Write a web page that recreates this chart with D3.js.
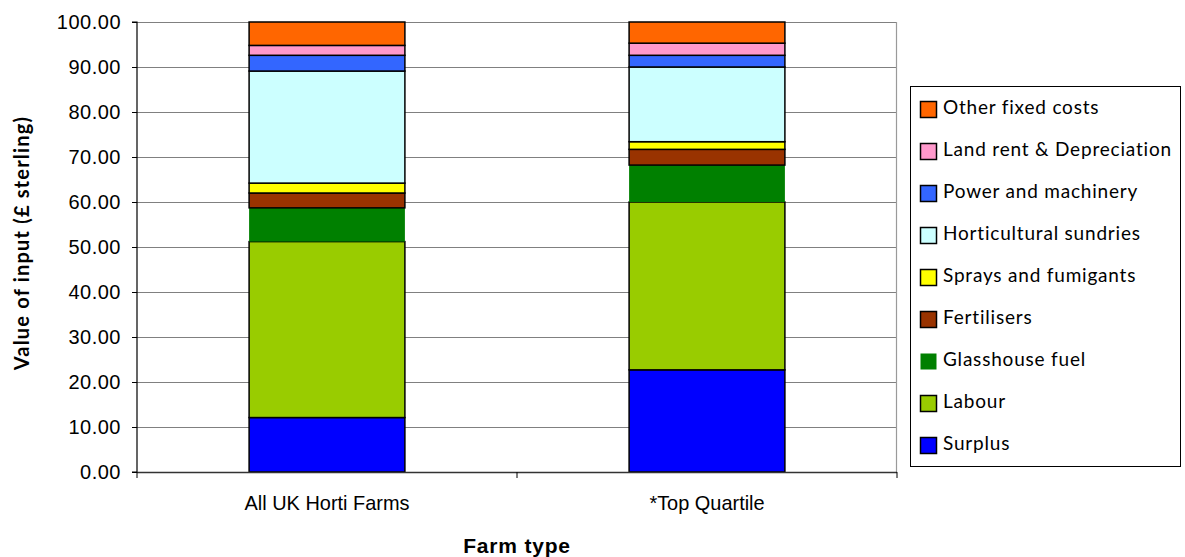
<!DOCTYPE html>
<html>
<head>
<meta charset="utf-8">
<script src="https://cdn.jsdelivr.net/npm/d3@7/dist/d3.min.js"></script>
<style>
  html, body { margin: 0; padding: 0; background: #fff; }
  svg { display: block; }
</style>
</head>
<body>
<svg id="chart" width="1185" height="557"></svg>
<script>
// Farm types along the x axis
const categories = ["All UK Horti Farms", "*Top Quartile"];

// Cost components, bottom of stack first
const seriesNames = [
  "Surplus", "Labour", "Glasshouse fuel", "Fertilisers", "Sprays and fumigants",
  "Horticultural sundries", "Power and machinery", "Land rent & Depreciation", "Other fixed costs"
];
const seriesColors = [
  "#0000FF", "#99CC00", "#008000", "#993300", "#FFFF00",
  "#CCFFFF", "#3366FF", "#FF99CC", "#FF6600"
];

// Value of input (£ sterling) per component, one entry per farm type
const surplus      = [12.1, 22.7];
const labour       = [39.1, 37.3];
const fuel         = [7.5, 8.2];
const fertilisers  = [3.3, 3.5];
const sprays       = [2.2, 1.7];
const sundries     = [24.9, 16.6];
const power        = [3.5, 2.6];
const landRent     = [2.2, 2.7];
const otherFixed   = [5.2, 4.7];

const yTicks = [0, 10, 20, 30, 40, 50, 60, 70, 80, 90, 100];

const seriesValues = [surplus, labour, fuel, fertilisers, sprays, sundries, power, landRent, otherFixed];

const rows = categories.map((c, i) => {
  const r = { category: c };
  seriesNames.forEach((s, k) => { r[s] = seriesValues[k][i]; });
  return r;
});

const stack = d3.stack().keys(seriesNames);
const layers = stack(rows);

const svg = d3.select("#chart");
const plot = { left: 137, top: 22, right: 897, bottom: 472 };

const x = d3.scaleBand().domain(categories).range([plot.left, plot.right]).paddingInner(0.59).paddingOuter(0.295);
const y = d3.scaleLinear().domain([0, 100]).range([plot.bottom, plot.top]);

// Gridlines
svg.append("g")
  .selectAll("line")
  .data(yTicks.filter(t => t > 0))
  .join("line")
  .attr("x1", plot.left).attr("x2", plot.right)
  .attr("y1", d => y(d) + 0.5).attr("y2", d => y(d) + 0.5)
  .attr("stroke", "#808080").attr("stroke-width", 1);

// Plot frame on right side
svg.append("line")
  .attr("x1", plot.right - 0.5).attr("x2", plot.right - 0.5)
  .attr("y1", plot.top).attr("y2", plot.bottom)
  .attr("stroke", "#9a9a9a").attr("stroke-width", 1.2);

// Stacked bars
const layerG = svg.append("g")
  .selectAll("g")
  .data(layers)
  .join("g")
  .attr("fill", (d, i) => seriesColors[i]);

layerG.selectAll("rect")
  .data(d => d.map(p => ({ p, key: d.key })))
  .join("rect")
  .attr("x", d => x(d.p.data.category))
  .attr("width", x.bandwidth())
  .attr("y", d => y(d.p[1]))
  .attr("height", d => y(d.p[0]) - y(d.p[1]))
  .attr("stroke", d => d.key === "Glasshouse fuel" ? "none" : "#000")
  .attr("stroke-width", 1.5);

// Y axis
const yAxis = d3.axisLeft(y).tickValues(yTicks).tickFormat(d3.format(".2f")).tickSize(5).tickPadding(11);
const yG = svg.append("g").attr("transform", `translate(${plot.left},0)`).call(yAxis);
yG.select(".domain").attr("stroke", "#000").attr("stroke-width", 1.2).attr("d", `M-5,${plot.top}H0V${plot.bottom}H-5`);
yG.selectAll(".tick line").attr("stroke", "#000");
yG.selectAll("text")
  .attr("font-family", "'Liberation Sans', Arial, sans-serif")
  .attr("font-size", 20)
  .attr("letter-spacing", 0.5)
  .attr("fill", "#000");

// X axis
const xAxis = svg.append("g").attr("transform", `translate(0,${plot.bottom})`);
xAxis.append("line")
  .attr("x1", plot.left).attr("x2", plot.right)
  .attr("y1", 0.5).attr("y2", 0.5)
  .attr("stroke", "#333").attr("stroke-width", 1.5);
const xTickPos = [plot.left, (plot.left + plot.right) / 2, plot.right];
xAxis.selectAll("line.tk")
  .data(xTickPos)
  .join("line").attr("class", "tk")
  .attr("x1", d => d).attr("x2", d => d)
  .attr("y1", 0).attr("y2", 6)
  .attr("stroke", "#000");
xAxis.selectAll("text")
  .data(categories)
  .join("text")
  .attr("transform", d => `translate(${x(d) + x.bandwidth() / 2},38) scale(0.95,1)`)
  .attr("text-anchor", "middle")
  .attr("font-family", "'Liberation Sans', Arial, sans-serif")
  .attr("font-size", 21)
  .attr("fill", "#000")
  .text(d => d);

// Axis titles
svg.append("text")
  .attr("x", (plot.left + plot.right) / 2)
  .attr("y", 553)
  .attr("text-anchor", "middle")
  .attr("font-family", "'Liberation Sans', Arial, sans-serif")
  .attr("font-weight", "bold")
  .attr("font-size", 21)
  .attr("letter-spacing", 0.8)
  .text("Farm type");

svg.append("text")
  .attr("transform", "translate(29,243) rotate(-90)")
  .attr("text-anchor", "middle")
  .attr("font-family", "Lato, 'Open Sans', sans-serif")
  .attr("font-weight", "bold")
  .attr("font-size", 20)
  .attr("letter-spacing", 1.2)
  .text("Value of input (£ sterling)");

// Legend
const legend = svg.append("g");
legend.append("rect")
  .attr("x", 910.5).attr("y", 86.5).attr("width", 270).attr("height", 380)
  .attr("fill", "#fff").attr("stroke", "#000").attr("stroke-width", 1);

const legendOrder = seriesNames.map((s, i) => ({ name: s, color: seriesColors[i] })).reverse();
const items = legend.selectAll("g.item")
  .data(legendOrder)
  .join("g").attr("class", "item")
  .attr("transform", (d, i) => `translate(0,${108 + i * 42})`);
items.append("rect")
  .attr("x", 920.5).attr("y", -6.5).attr("width", 16).attr("height", 16)
  .attr("fill", d => d.color)
  .attr("stroke", d => d.name === "Glasshouse fuel" ? "none" : "#000")
  .attr("stroke-width", 1.5);
items.append("text")
  .attr("x", 943).attr("y", 1)
  .attr("dominant-baseline", "middle")
  .attr("font-family", "Lato, 'Open Sans', sans-serif")
  .attr("font-size", 19)
  .attr("letter-spacing", 0.8)
  .attr("fill", "#000")
  .text(d => d.name);
</script>
</body>
</html>
